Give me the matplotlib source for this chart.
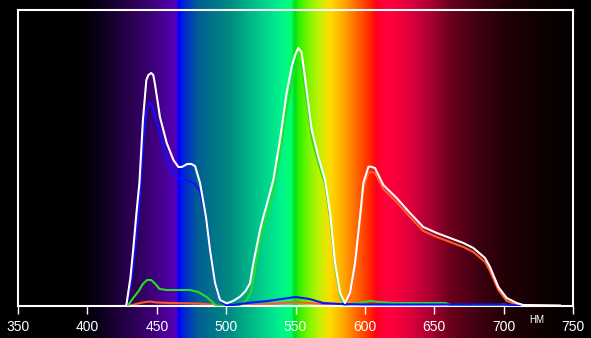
import numpy as np
import matplotlib
matplotlib.use("Agg")
import matplotlib.pyplot as plt

# spectrum curves, height in arbitrary units (0..296 = full axis height)
white_nm = [425, 428, 431, 433, 435.5, 437.5, 440, 442.5, 444, 446, 447.5, 448.7, 452.3, 457.2,
            462, 465.6, 468, 472, 475, 477.6, 481.2, 485.5, 488.4, 492, 495.6, 500.4, 505, 510,
            514, 517.2, 519.6, 524.4, 526.8, 530, 534, 538.8, 543.6, 547.2, 550, 552, 554.4,
            558, 561.7, 566.5, 571.3, 574.9, 578.5, 582.1, 585.7, 589.3, 592.9, 596.5, 598.9,
            602.5, 603.7, 607.3, 613.3, 622.9, 632.5, 642.1, 651.8, 661.4, 671, 678.2, 686.6,
            690.2, 696.2, 702.2, 709.4, 714.2, 740.6]
white = [0, 0, 28, 56, 95, 123, 185, 226, 231, 233, 231, 222, 189, 163,
         146, 139, 139, 142, 142, 140, 123, 89, 56, 23, 6, 2.7, 5, 9.3,
         15, 22.7, 42.7, 76, 89, 105, 126, 166, 213, 239, 252, 258, 254,
         216, 176, 149, 126, 93, 43, 13, 3, 13, 43, 89, 123,
         139, 139.5, 138, 121, 108, 93, 79, 73, 68, 63, 58, 48,
         39, 19, 8, 3, 1, 0.5]

blue_nm = [428, 431, 433, 435.5, 437.5, 440, 442.5, 445, 447, 449, 452.3, 457.2, 460, 464.4,
           468, 471.6, 475, 477.6, 481, 485.5, 488.4, 492, 495.6, 500, 505, 515, 530, 540,
           550, 560, 570, 582, 600, 650, 700, 706, 712]
blue = [0, 18, 40, 75, 103, 160, 195, 203, 200, 188, 173, 146, 137, 129,
        126, 126, 124, 122, 115, 89, 56, 22, 5, 1, 1, 3, 5, 7,
        9, 7, 3, 2, 1.5, 1.5, 1.5, 1, 0]

green_nm = [429, 433, 437, 440, 443, 446, 449, 452, 457, 465, 474, 480, 486, 490, 493, 500,
            510, 515, 518, 520, 524, 527, 534, 539, 544, 548, 552, 554.4, 558, 561.7, 566.5,
            571.3, 574.9, 578.5, 582, 585, 590, 595, 604, 610, 620, 640, 658, 662, 670, 695,
            700, 705, 710]
green = [0, 8, 15, 22, 26, 26, 22, 17, 16, 16, 16, 14, 9, 4, 0, 0,
         1, 6, 14, 30, 64, 78, 114, 154, 200, 228, 243, 241, 207, 168, 143,
         122, 88, 40, 11, 1, 2, 3, 5, 4, 3, 3, 3, 1, 0.5, 0.5,
         1.5, 0.5, 0]

red_nm = [430, 435, 440, 445, 450, 460, 480, 490, 495, 505, 520, 540, 550, 560, 575, 585,
          589.3, 592.9, 596.5, 598.9, 602.5, 604, 607.3, 613.3, 622.9, 632.5, 642.1, 651.8,
          661.4, 671, 678.2, 686.6, 690.2, 696.2, 702.2, 709.4, 714, 740]
red = [0, 2, 3.5, 4.5, 3.5, 3, 2.5, 1.5, 0, 0, 1, 3, 4, 3, 1.5, 1,
       8, 37, 83, 117, 133, 134, 133, 117, 104, 89, 75, 69,
       64, 59, 54, 44, 35, 16, 5, 1.5, 0.5, 0]

# background spectrum colour stops
bg_nm = [337, 395, 410, 430, 450, 462, 464.5, 465.5, 470, 480, 503, 524, 540, 547, 549.5,
         552, 560, 568, 575, 586, 596, 605, 608, 615, 622, 633, 647, 661, 683, 705, 726,
         745, 763]
bg_rgb = [(0, 0, 0), (0, 0, 0), (12, 0, 28), (40, 0, 75), (65, 0, 130), (85, 0, 175),
          (75, 0, 200), (0, 0, 255), (0, 40, 210), (0, 95, 145), (0, 140, 130), (0, 200, 140),
          (0, 245, 140), (0, 255, 110), (0, 220, 30), (40, 240, 0), (130, 245, 0),
          (200, 240, 0), (255, 220, 0), (255, 160, 0), (255, 90, 0), (255, 30, 0),
          (255, 0, 30), (255, 0, 60), (250, 0, 60), (220, 0, 60), (170, 0, 50),
          (110, 0, 30), (60, 0, 15), (30, 0, 5), (15, 0, 2), (5, 0, 0), (0, 0, 0)]

ticks = [350, 400, 450, 500, 550, 600, 650, 700, 750]

W, H = 591, 338
ax_l, ax_r, ax_t, ax_b = 18, 573, 10, 306
nm_per_px = 400 / (ax_r - ax_l)

fig = plt.figure(figsize=(W / 100, H / 100), dpi=100)

# full figure background
bg = fig.add_axes([0, 0, 1, 1], zorder=-1)
nm0 = 350 - ax_l * nm_per_px
nm1 = 350 + (W - ax_l) * nm_per_px
xs = np.linspace(nm0, nm1, 1500)
rgb = np.array(bg_rgb) / 255.0
row = np.stack([np.interp(xs, bg_nm, rgb[:, k]) for k in range(3)], axis=-1)
bg.imshow(row[np.newaxis, :, :], extent=[nm0, nm1, 0, 1], aspect='auto')
bg.set_xlim(nm0, nm1)
bg.axis('off')

ax = fig.add_axes([ax_l / W, (H - ax_b) / H, (ax_r - ax_l) / W, (ax_b - ax_t) / H])
ax.set_facecolor('none')

ax.plot(red_nm, red, color='#ff5a28', lw=1.5, zorder=2)
ax.plot(green_nm, green, color='#28dc28', lw=1.5, zorder=3)
ax.plot(blue_nm, blue, color='#1010ff', lw=1.5, zorder=4)
ax.plot(white_nm, white, color='white', lw=1.5, zorder=5)

ax.set_xlim(350, 750)
ax.set_ylim(0, ax_b - ax_t)
ax.set_xticks(ticks)
ax.set_yticks([])
ax.tick_params(axis='x', direction='out', length=6, width=1, color='white',
               labelcolor='white', labelsize=10, pad=4)
for lab in ax.get_xticklabels():
    lab.set_family('Liberation Sans')
for s in ax.spines.values():
    s.set_color('white')
    s.set_linewidth(1.5)

ax.text(724, -0.047, 'НМ', transform=ax.get_xaxis_transform(), color='white',
        fontsize=7, ha='center', va='center', family='Liberation Sans')

fig.savefig('out.png', dpi=100)
